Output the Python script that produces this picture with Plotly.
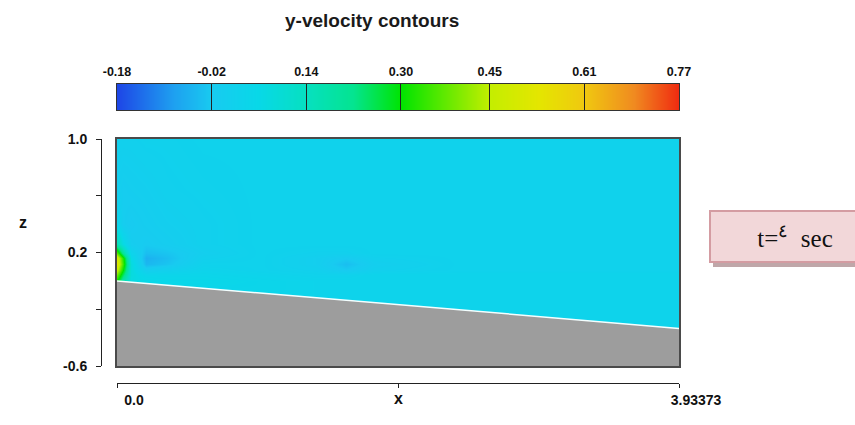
import plotly.graph_objects as go

# ---------------- data ----------------
title_text = "y-velocity contours"
x_min, x_max = 0.0, 3.93373
z_min, z_max = -0.6, 1.0

cbar_ticks = [-0.18, -0.02, 0.14, 0.30, 0.45, 0.61, 0.77]
cbar_ticktext = ["-0.18", "-0.02", "0.14", "0.30", "0.45", "0.61", "0.77"]

y_tickvals = [-0.6, -0.2, 0.2, 0.6, 1.0]
y_ticktext = ["-0.6", " ", "0.2", " ", "1.0"]
x_tickvals = [0.0, 1.966865, 3.93373]
x_ticktext = ["0.0", " ", "3.93373"]

# sloping bed (bottom boundary)
bed_x = [0.0, 3.93373]
bed_z = [0.0, -0.335]

# velocity field samples
grid_x = [0.0, 0.04, 0.1, 0.2, 0.35, 0.6, 1.0, 1.4, 1.6, 1.8, 2.4, 3.2, 3.93373]
grid_z = [-0.6, -0.05, 0.0, 0.04, 0.08, 0.12, 0.16, 0.2, 0.26, 0.4, 0.65, 1.0]
vel = [
    [0.03, 0.03, 0.03, 0.03, 0.03, 0.03, 0.03, 0.03, 0.03, 0.03, 0.03, 0.03, 0.03],
    [0.26, 0.14, 0.07, 0.05, 0.05, 0.04, 0.04, 0.03, 0.03, 0.03, 0.03, 0.03, 0.03],
    [0.30, 0.17, 0.07, 0.06, 0.05, 0.05, 0.04, 0.03, 0.03, 0.03, 0.03, 0.03, 0.03],
    [0.38, 0.24, 0.08, 0.04, 0.04, 0.04, 0.03, 0.02, 0.02, 0.03, 0.03, 0.03, 0.03],
    [0.46, 0.30, 0.08, 0.00, 0.01, 0.03, 0.02, 0.01, -0.02, 0.01, 0.02, 0.02, 0.02],
    [0.52, 0.34, 0.08, -0.05, -0.03, 0.02, 0.02, 0.00, -0.04, 0.00, 0.02, 0.02, 0.02],
    [0.50, 0.32, 0.06, -0.06, -0.04, 0.01, 0.02, 0.00, -0.02, 0.01, 0.02, 0.02, 0.02],
    [0.36, 0.20, 0.03, -0.04, -0.03, 0.00, 0.02, 0.01, 0.01, 0.02, 0.02, 0.02, 0.02],
    [0.16, 0.07, -0.01, -0.02, -0.01, 0.01, 0.02, 0.02, 0.02, 0.02, 0.02, 0.02, 0.02],
    [0.04, -0.01, -0.02, -0.01, 0.00, 0.01, 0.02, 0.02, 0.02, 0.02, 0.02, 0.02, 0.02],
    [0.00, -0.01, -0.005, 0.00, 0.01, 0.015, 0.02, 0.02, 0.02, 0.02, 0.02, 0.02, 0.02],
    [0.01, 0.01, 0.01, 0.015, 0.015, 0.02, 0.02, 0.02, 0.02, 0.02, 0.02, 0.02, 0.02],
]

time_label = "t=<sup>٤</sup>\u00a0 sec"

# ---------------- style ----------------
FONT = "Liberation Sans, Arial, Helvetica, sans-serif"
W, H = 855, 425
ML, MR, MT, MB = 50, 176, 60, 30
PW, PH = W - ML - MR, H - MT - MB


def px(xp):
    return (xp - ML) / PW


def py(yp):
    return (H - MB - yp) / PH


colorscale = [
    [0.0, "#1e46e6"],
    [0.10, "#1ea0f0"],
    [0.168, "#18cbf0"],
    [0.25, "#08d8e8"],
    [0.337, "#06e0c0"],
    [0.42, "#04e490"],
    [0.505, "#00e400"],
    [0.663, "#c4ee00"],
    [0.75, "#e4e600"],
    [0.832, "#f0c810"],
    [0.92, "#f08a20"],
    [1.0, "#f02a10"],
]

fig = go.Figure()

fig.add_trace(go.Heatmap(
    x=grid_x, y=grid_z, z=vel,
    zmin=cbar_ticks[0], zmax=cbar_ticks[-1],
    colorscale=colorscale, zsmooth="best", hoverinfo="skip", showscale=False,
))

# colour bar drawn as its own strip
fig.add_trace(go.Heatmap(
    x=cbar_ticks, y=[0, 1], z=[cbar_ticks, cbar_ticks],
    xaxis="x3", yaxis="y3",
    zmin=cbar_ticks[0], zmax=cbar_ticks[-1],
    colorscale=colorscale, zsmooth="best", hoverinfo="skip", showscale=False,
))

# bed (gray solid region)
fig.add_trace(go.Scatter(
    x=[bed_x[0], bed_x[1], bed_x[1], bed_x[0], bed_x[0]],
    y=[bed_z[0], bed_z[1], z_min, z_min, bed_z[0]],
    fill="toself", fillcolor="#9d9d9d", mode="none",
    hoverinfo="skip", showlegend=False,
))
fig.add_trace(go.Scatter(
    x=bed_x, y=bed_z, mode="lines",
    line=dict(color="#f4ffff", width=1.5),
    hoverinfo="skip", showlegend=False,
))

# helper trace so the offset axes are drawn
fig.add_trace(go.Scatter(
    x=[x_tickvals[0]], y=[y_tickvals[-1]], xaxis="x2", yaxis="y2",
    mode="markers", marker=dict(opacity=0), hoverinfo="skip", showlegend=False,
))

tickfont = dict(family=FONT, size=14, color="#111", weight="bold")

fig.update_layout(
    width=W, height=H,
    margin=dict(l=ML, r=MR, t=MT, b=MB, autoexpand=False),
    paper_bgcolor="white", plot_bgcolor="white",
    showlegend=False,
    xaxis=dict(
        domain=[px(117), 1], range=[x_min, x_max],
        showgrid=False, zeroline=False, showticklabels=False, ticks="",
        showline=True, mirror=True, linecolor="#4a4a4a", linewidth=1.5,
    ),
    yaxis=dict(
        domain=[py(366), py(139)], range=[z_min, z_max],
        showgrid=False, zeroline=False, showticklabels=False, ticks="",
        showline=True, mirror=True, linecolor="#4a4a4a", linewidth=1.5,
    ),
    xaxis2=dict(
        overlaying="x", anchor="free", position=py(383), side="bottom",
        domain=[px(117), 1], range=[x_min, x_max],
        showgrid=False, zeroline=False,
        showline=True, linecolor="#222", linewidth=1,
        ticks="outside", ticklen=4, tickcolor="#222",
        tickvals=x_tickvals, ticktext=x_ticktext,
        ticklabelshift=17, tickfont=tickfont,
    ),
    yaxis2=dict(
        overlaying="y", anchor="free", position=px(101), side="left",
        domain=[py(366), py(139)], range=[z_min, z_max],
        showgrid=False, zeroline=False,
        showline=True, linecolor="#222", linewidth=1,
        ticks="outside", ticklen=5, tickcolor="#222",
        tickvals=y_tickvals, ticktext=y_ticktext,
        ticklabelstandoff=6, tickfont=tickfont,
    ),
    xaxis3=dict(
        domain=[px(117), 1], range=[cbar_ticks[0], cbar_ticks[-1]],
        anchor="y3", side="top",
        showgrid=False, zeroline=False,
        showline=True, mirror=True, linecolor="#333", linewidth=1,
        ticks="inside", ticklen=26, tickcolor="#222", tickwidth=1,
        tickvals=cbar_ticks, ticktext=cbar_ticktext,
        ticklabelstandoff=2,
        tickfont=dict(family=FONT, size=12.5, color="#111", weight="bold"),
    ),
    yaxis3=dict(
        domain=[py(110), py(84)], range=[0, 1], anchor="x3",
        showgrid=False, zeroline=False, showticklabels=False, ticks="",
        showline=True, mirror=True, linecolor="#333", linewidth=1,
    ),
    annotations=[
        dict(text=title_text, x=px(372), y=py(20), xref="paper", yref="paper",
             xanchor="center", yanchor="middle", showarrow=False,
             font=dict(family=FONT, size=19, color="#1a1a1a", weight="bold")),
        dict(text="z", x=px(17), y=py(222), xref="paper", yref="paper",
             showarrow=False, font=dict(family=FONT, size=16, color="#111", weight="bold")),
        dict(text="x", x=px(399), y=py(409), xref="paper", yref="paper",
             showarrow=False, font=dict(family=FONT, size=16, color="#111", weight="bold")),
        dict(text=time_label, x=px(795), y=py(236), xref="paper", yref="paper",
             xanchor="center", yanchor="middle",
             width=168, height=49, showarrow=False,
             bgcolor="#f2d7d9", bordercolor="#d49ca2", borderwidth=2, borderpad=0,
             font=dict(family="Liberation Serif, Times New Roman, serif", size=25, color="#111")),
    ],
    shapes=[
        dict(type="rect", xref="paper", yref="paper",
             x0=px(713), x1=px(885), y0=py(267), y1=py(214),
             fillcolor="#bfa7a9", line=dict(width=0), layer="above"),
    ],
)

fig.write_html("out.html")
